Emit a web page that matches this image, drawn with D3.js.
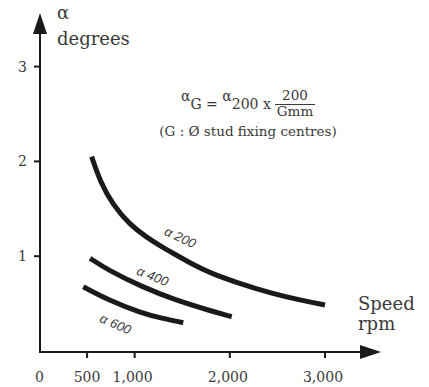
<!DOCTYPE html>
<html><head><meta charset="utf-8">
<script src="https://cdn.jsdelivr.net/npm/d3@7"></script>
<style>body{margin:0;background:#fff}svg{display:block}</style>
</head><body>
<svg id="c" width="429" height="387"></svg>
<script>
// Data
const xTicks = [0, 500, 1000, 2000, 3000];
const xTickLabels = ["0", "500", "1,000", "2,000", "3,000"];
const yTicks = [1, 2, 3];
const yTickLabels = ["1", "2", "3"];
const seriesNames = ["α 200", "α 400", "α 600"];
const speed200 = [548, 636, 772, 951, 1126, 1266, 1406, 1616, 1800, 2075, 2422, 2769, 3000];
const alpha200 = [2.05, 1.79, 1.54, 1.33, 1.20, 1.11, 1.03, 0.91, 0.82, 0.72, 0.612, 0.53, 0.485];
const speed400 = [531, 720, 1074, 1424, 1770, 2020];
const alpha400 = [0.978, 0.854, 0.678, 0.538, 0.432, 0.362];
const speed600 = [460, 723, 1074, 1284, 1511];
const alpha600 = [0.678, 0.538, 0.398, 0.345, 0.299];
// label anchor (speed, alpha) and angle
const labelSpeed = [1480, 1190, 800];
const labelAlpha = [1.2, 0.79, 0.285];
const labelAngle = [25, 22, 24];

const svg = d3.select("#c");
const x = d3.scaleLinear().domain([0, 3000]).range([39.5, 325]);
const y = d3.scaleLinear().domain([0, 3]).range([351, 66.6]);
const ink = "#1a1a1a", txt = "#3a3a3a";
const serif = "'DejaVu Serif', serif";

// axes lines
const axisY = 352;
svg.append("line").attr("x1", 40).attr("x2", 40).attr("y1", axisY + 1).attr("y2", 30)
  .attr("stroke", ink).attr("stroke-width", 2);
svg.append("line").attr("x1", 39).attr("x2", 365).attr("y1", axisY).attr("y2", axisY)
  .attr("stroke", ink).attr("stroke-width", 2);
svg.append("path").attr("d", "M40,13 L33,34 L47,34 Z").attr("fill", ink);
svg.append("path").attr("d", "M381,352 L360,345 L360,359 Z").attr("fill", ink);

// x ticks
const xg = svg.append("g");
xTicks.forEach((t, i) => {
  if (t !== 0) xg.append("line").attr("x1", x(t)).attr("x2", x(t)).attr("y1", axisY).attr("y2", axisY + 6)
    .attr("stroke", ink).attr("stroke-width", 2);
  xg.append("text").attr("x", x(t) - (xTickLabels[i].includes(",") ? 2 : 0)).attr("y", 381.5)
    .attr("text-anchor", "middle").attr("font-family", serif).attr("font-size", 14).attr("fill", txt)
    .text(xTickLabels[i]);
});
// y ticks
yTicks.forEach((t, i) => {
  svg.append("line").attr("x1", 34).attr("x2", 40).attr("y1", y(t)).attr("y2", y(t))
    .attr("stroke", ink).attr("stroke-width", 2);
  svg.append("text").attr("x", 27).attr("y", y(t)).attr("dy", "0.36em").attr("text-anchor", "end")
    .attr("font-family", serif).attr("font-size", 14).attr("fill", txt).text(yTickLabels[i]);
});

// axis titles
svg.append("text").attr("x", 57).attr("y", 18.5).attr("font-family", serif).attr("font-size", 18).attr("fill", txt).text("α");
svg.append("text").attr("x", 57).attr("y", 45).attr("font-family", serif).attr("font-size", 18).attr("fill", txt).text("degrees");
svg.append("text").attr("x", 358).attr("y", 310).attr("font-family", serif).attr("font-size", 18).attr("fill", txt).text("Speed");
svg.append("text").attr("x", 358).attr("y", 330).attr("font-family", serif).attr("font-size", 18).attr("fill", txt).text("rpm");

// curves
const series = [
  {s: speed200, a: alpha200},
  {s: speed400, a: alpha400},
  {s: speed600, a: alpha600}
];
const line = d3.line().x(d => x(d[0])).y(d => y(d[1])).curve(d3.curveBasis);
series.forEach((ser, i) => {
  const pts = ser.s.map((v, j) => [v, ser.a[j]]);
  svg.append("path").attr("d", line(pts)).attr("fill", "none").attr("stroke", ink)
    .attr("stroke-width", 5);
  svg.append("text")
    .attr("transform", `translate(${x(labelSpeed[i])},${y(labelAlpha[i])}) rotate(${labelAngle[i]})`)
    .attr("text-anchor", "middle").attr("dy", "0.35em")
    .attr("font-family", "'Liberation Sans', Arial, sans-serif").attr("font-style", "italic")
    .attr("font-size", 13).attr("fill", txt).text(seriesNames[i]);
});

// formula
const f = svg.append("g").attr("font-family", serif).attr("fill", txt).attr("font-size", 14);
const t1 = f.append("text").attr("x", 181).attr("y", 109);
t1.append("tspan").attr("dy", -8).text("α");
t1.append("tspan").attr("dy", 8).text("G = ");
t1.append("tspan").attr("dy", -8).text("α");
t1.append("tspan").attr("dy", 8).text("200 x");
f.append("text").attr("x", 295).attr("y", 100).attr("text-anchor", "middle").attr("font-size", 13.5).text("200");
f.append("line").attr("x1", 275).attr("x2", 315).attr("y1", 104.5).attr("y2", 104.5).attr("stroke", txt).attr("stroke-width", 1);
f.append("text").attr("x", 295).attr("y", 116).attr("text-anchor", "middle").attr("font-size", 13.5).text("Gmm");
f.append("text").attr("x", 248).attr("y", 136).attr("text-anchor", "middle").attr("font-size", 13.5).text("(G : Ø stud fixing centres)");
</script>
</body></html>
